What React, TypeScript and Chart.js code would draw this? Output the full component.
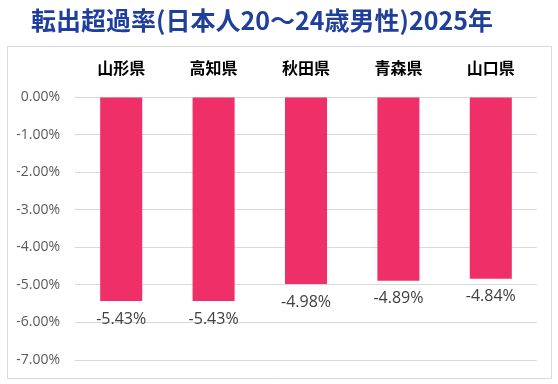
import React, { useEffect, useRef } from "react";
import { Chart, registerables } from "chart.js";
Chart.register(...registerables);

const TITLE = "転出超過率(日本人20～24歳男性)2025年";
const categories = ["山形県", "高知県", "秋田県", "青森県", "山口県"];
const values = [-5.43, -5.43, -4.98, -4.89, -4.84];
const yMin = -7;
const yMax = 0;

const decorPlugin = {
  id: "decor",
  beforeDraw(chart: any) {
    const ctx = chart.ctx;
    ctx.save();
    ctx.fillStyle = "#ffffff";
    ctx.fillRect(0, 0, chart.width, chart.height);
    ctx.strokeStyle = "#d9d9d9";
    ctx.lineWidth = 1;
    ctx.beginPath();
    ctx.rect(7.5, 46.5, 544, 332);
    ctx.stroke();
    ctx.fillStyle = "#1f3f9c";
    ctx.font = "bold 25px 'Noto Sans CJK JP', sans-serif";
    ctx.textAlign = "center";
    ctx.textBaseline = "middle";
    ctx.fillText(TITLE, 262, 20);
    ctx.restore();
  },
  afterDatasetsDraw(chart: any) {
    const ctx = chart.ctx;
    const meta = chart.getDatasetMeta(0);
    ctx.save();
    ctx.fillStyle = "#404040";
    ctx.font = "16px 'Open Sans', sans-serif";
    ctx.textAlign = "center";
    ctx.textBaseline = "middle";
    meta.data.forEach((bar: any, i: number) => {
      ctx.fillText(values[i].toFixed(2) + "%", bar.x, bar.y + 18);
    });
    ctx.restore();
  },
};

export default function App() {
  const ref = useRef<HTMLCanvasElement>(null);
  useEffect(() => {
    document.body.style.margin = "0";
    const chart = new Chart(ref.current!, {
      type: "bar",
      data: {
        labels: categories,
        datasets: [
          {
            data: values,
            backgroundColor: "#ef3068",
            barPercentage: 0.455,
            categoryPercentage: 1,
          },
        ],
      },
      options: {
        animation: false,
        responsive: false,
        layout: { padding: { left: 0, right: 21, top: 0, bottom: 24 } },
        plugins: { legend: { display: false }, tooltip: { enabled: false } },
        scales: {
          x: {
            position: "top",
            grid: { display: false, drawTicks: false },
            border: { display: false },
            ticks: {
              padding: 19,
              color: "#000000",
              font: { family: "'Noto Sans CJK JP', sans-serif", size: 16, weight: "bold" },
            },
            afterFit: (s: any) => {
              s.height = 97;
            },
          },
          y: {
            min: yMin,
            max: yMax,
            grid: { color: "#d9d9d9", drawTicks: false },
            border: { display: false },
            ticks: {
              stepSize: 1,
              padding: 15,
              color: "#595959",
              font: { family: "'Open Sans', sans-serif", size: 14 },
              callback: (v: any) => Number(v).toFixed(2) + "%",
            },
            afterFit: (s: any) => {
              s.width = 75;
            },
          },
        },
      },
      plugins: [decorPlugin],
    });
    return () => chart.destroy();
  }, []);
  return <canvas ref={ref} width={558} height={384} style={{ display: "block" }} />;
}
